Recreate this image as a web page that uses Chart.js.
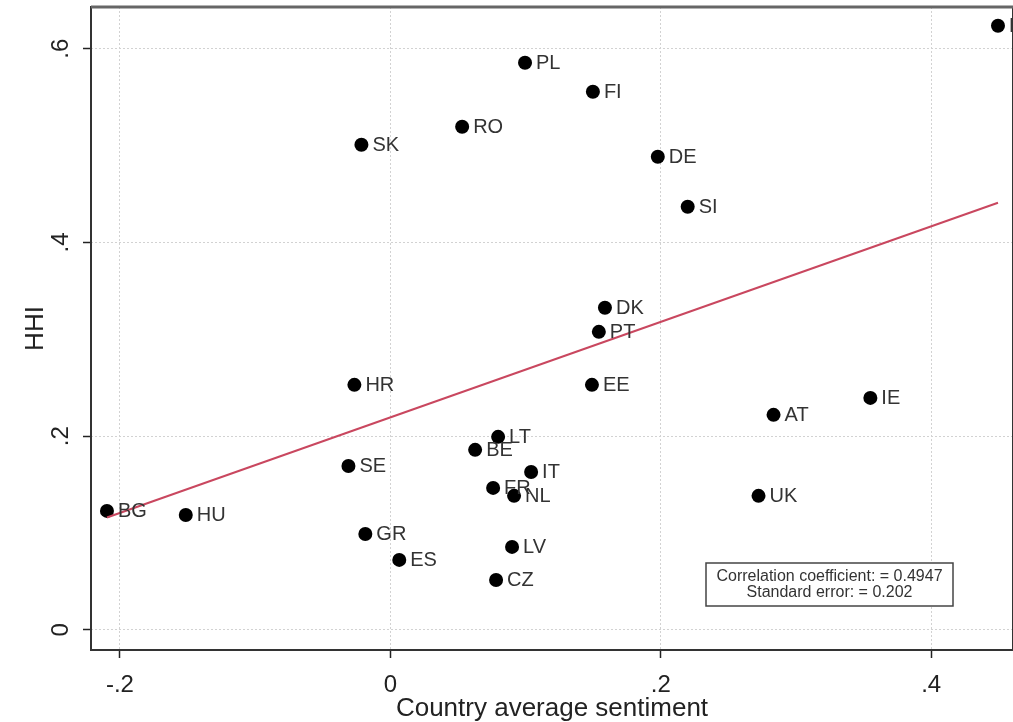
<!DOCTYPE html>
<html><head><meta charset="utf-8">
<script src="https://cdn.jsdelivr.net/npm/chart.js@4/dist/chart.umd.min.js"></script>
<style>
html,body{margin:0;padding:0;background:#fff;overflow:hidden;width:1013px;height:722px}
#wrap{position:relative;width:1020px;height:722px}
</style></head>
<body><div id="wrap"><canvas id="c" width="1020" height="722"></canvas></div>
<script>
const countries = ['PL','FI','RO','SK','DE','SI','DK','PT','HR','EE','AT','IE','LT','BE','IT','SE','FR','NL','UK','BG','HU','GR','ES','LV','CZ','LU'];
const sentiment = [0.0996,0.1498,0.0531,-0.0214,0.1978,0.2199,0.1587,0.1542,-0.0266,0.1491,0.2834,0.3550,0.0797,0.0627,0.1041,-0.0310,0.0760,0.0915,0.2723,-0.2096,-0.1513,-0.0185,0.0066,0.0900,0.0782,0.4494];
const hhi = [0.5855,0.5555,0.5194,0.5008,0.4884,0.4368,0.3325,0.3077,0.2530,0.2530,0.2220,0.2395,0.1993,0.1859,0.1631,0.1693,0.1466,0.1384,0.1384,0.1229,0.1187,0.0991,0.0723,0.0857,0.0516,0.6237];
const fitIntercept = 0.2194;
const fitSlope = 0.493;
const xTickValues = [-0.2, 0, 0.2, 0.4];
const xTickLabels = ['-.2', '0', '.2', '.4'];
const yTickValues = [0, 0.2, 0.4, 0.6];
const yTickLabels = ['0', '.2', '.4', '.6'];
const statsLines = ['Correlation coefficient: = 0.4947', 'Standard error: = 0.202'];
const xTitle = 'Country average sentiment';
const yTitle = 'HHI';

const FONT = "'Liberation Sans', Arial, sans-serif";
const points = sentiment.map((x, i) => ({x: x, y: hhi[i]}));
const xMin = Math.min(...sentiment), xMax = Math.max(...sentiment);
const fitLine = [xMin, xMax].map(x => ({x: x, y: fitIntercept + fitSlope * x}));

const decor = {
  id: 'decor',
  afterDatasetsDraw(chart) {
    const ctx = chart.ctx;
    const meta = chart.getDatasetMeta(1);
    ctx.save();
    ctx.font = '20px ' + FONT;
    ctx.fillStyle = '#333';
    ctx.textAlign = 'left';
    ctx.textBaseline = 'middle';
    meta.data.forEach((el, i) => {
      ctx.fillText(countries[i], el.x + 11, el.y + 1);
    });
    ctx.restore();
  },
  afterDraw(chart) {
    const ctx = chart.ctx;
    const a = chart.chartArea;
    const ys = chart.scales.y;
    ctx.save();
    // frame
    ctx.strokeStyle = '#333';
    ctx.lineWidth = 2;
    ctx.strokeRect(a.left, a.top, a.right - a.left, a.bottom - a.top);
    ctx.strokeStyle = '#666';
    ctx.lineWidth = 3;
    ctx.beginPath(); ctx.moveTo(a.left, a.top); ctx.lineTo(a.right, a.top); ctx.stroke();
    // y tick labels rotated
    ctx.font = '24px ' + FONT;
    ctx.fillStyle = '#222';
    ctx.textAlign = 'center';
    ctx.textBaseline = 'middle';
    yTickValues.forEach((v, i) => {
      const py = ys.getPixelForValue(v);
      ctx.save();
      ctx.translate(61, py);
      ctx.rotate(-Math.PI / 2);
      ctx.fillText(yTickLabels[i], 0, 0);
      ctx.restore();
    });
    // stats box
    const bx = 706, by = 563, bw = 247, bh = 43;
    ctx.fillStyle = '#fff';
    ctx.fillRect(bx, by, bw, bh);
    ctx.strokeStyle = '#444';
    ctx.lineWidth = 1.5;
    ctx.strokeRect(bx, by, bw, bh);
    ctx.fillStyle = '#333';
    ctx.font = '16px ' + FONT;
    ctx.fillText(statsLines[0], bx + bw / 2, by + 13.5);
    ctx.fillText(statsLines[1], bx + bw / 2, by + 29.5);
    ctx.restore();
  }
};

new Chart(document.getElementById('c'), {
  data: {
    datasets: [
      {type: 'line', data: fitLine, borderColor: '#c9475f', borderWidth: 2, pointRadius: 0, fill: false, order: 0},
      {type: 'scatter', data: points, backgroundColor: '#000', borderColor: '#000', pointRadius: 7, pointBorderWidth: 0, order: 1}
    ]
  },
  options: {
    responsive: false,
    devicePixelRatio: 1,
    animation: false,
    layout: {padding: {top: 7, right: 5, left: 0, bottom: 0}},
    plugins: {legend: {display: false}, tooltip: {enabled: false}},
    scales: {
      x: {
        type: 'linear', min: -0.2214, max: 0.4605,
        afterBuildTicks: s => { s.ticks = xTickValues.map(v => ({value: v})); },
        afterFit: s => { s.height = 72; },
        ticks: {callback: (v, i) => xTickLabels[i], color: '#222', font: {size: 24, family: FONT}, padding: 13, maxRotation: 0},
        grid: {color: '#d2d2d2', lineWidth: 1, tickLength: 8, tickColor: '#222', tickWidth: 1.5},
        border: {display: false, dash: [2, 2]},
        title: {display: true, text: xTitle, color: '#222', font: {size: 26, family: FONT}, padding: {top: 0, bottom: -2}}
      },
      y: {
        type: 'linear', min: -0.0207, max: 0.643,
        afterBuildTicks: s => { s.ticks = yTickValues.map(v => ({value: v})); },
        afterFit: s => { s.width = 91; },
        ticks: {display: false},
        grid: {color: '#d2d2d2', lineWidth: 1, tickLength: 8, tickColor: '#222', tickWidth: 1.5},
        border: {display: false, dash: [2, 2]},
        title: {display: true, text: yTitle, color: '#222', font: {size: 26, family: FONT}, padding: {top: 20, bottom: 0}}
      }
    }
  },
  plugins: [decor]
});
</script>
</body></html>
